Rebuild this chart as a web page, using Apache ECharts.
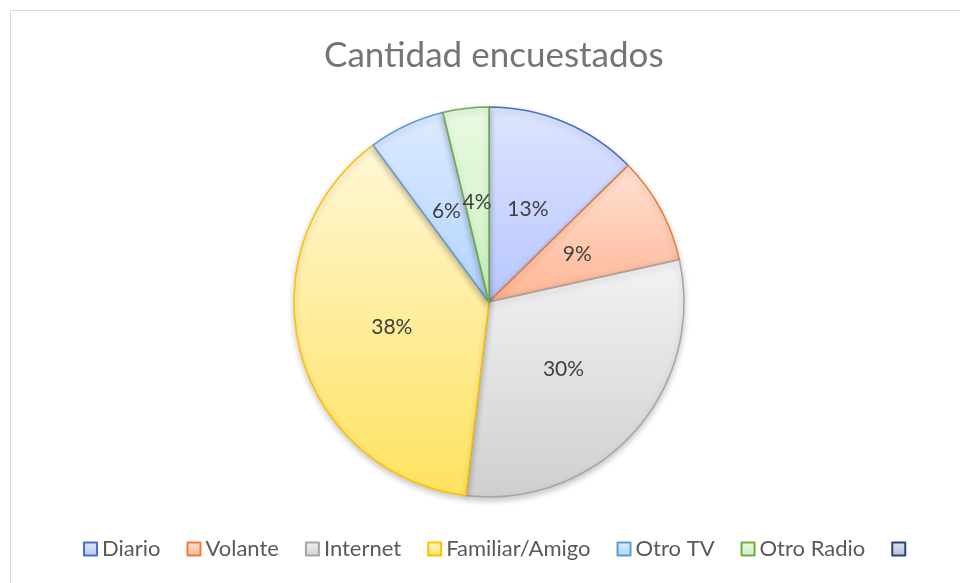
<!DOCTYPE html>
<html>
<head>
<meta charset="utf-8">
<script src="https://cdn.jsdelivr.net/npm/echarts@6/dist/echarts.min.js"></script>
<style>
html,body{margin:0;padding:0;background:#fff;overflow:hidden;}
#frame{position:absolute;left:10px;top:10px;width:980px;height:620px;border:1px solid #D9D9D9;box-sizing:border-box;}
#chart{position:absolute;left:0;top:0;width:960px;height:583px;}
</style>
</head>
<body>
<div id="frame"></div>
<div id="chart"></div>
<script>
const titleText = 'Cantidad encuestados';
const categories = ['Diario', 'Volante', 'Internet', 'Familiar/Amigo', 'Otro TV', 'Otro Radio', '\u00A0'];
const values = [10, 7, 24, 30, 5, 3, 0];
const lineColors = ['#4472C4', '#ED7D31', '#A5A5A5', '#FFC000', '#5B9BD5', '#70AD47', '#264478'];
const topColors = ['#DEE5FF', '#FFE2D4', '#F3F3F3', '#FFF7D8', '#DDEBFF', '#E9FAE2', '#DDE2EE'];
const bottomColors = ['#B8C6FF', '#FFB594', '#CFCFCF', '#FFE25E', '#B2D3FF', '#CCF1BF', '#B8C2D8'];

function grad(i) {
  return new echarts.graphic.LinearGradient(0, 0, 0, 1, [
    {offset: 0, color: topColors[i]},
    {offset: 1, color: bottomColors[i]}
  ]);
}

const pieData = categories.map((name, i) => {
  const item = {
    name: name,
    value: values[i],
    itemStyle: {color: grad(i), borderColor: lineColors[i], borderWidth: 1.5}
  };
  if (values[i] === 0) {
    item.itemStyle.borderWidth = 0;
    item.label = {show: false};
  }
  return item;
});

const legendData = categories.map((name, i) => ({
  name: name,
  itemStyle: {color: grad(i), borderColor: lineColors[i], borderWidth: 2}
}));

const chart = echarts.init(document.getElementById('chart'), null, {renderer: 'canvas'});
chart.setOption({
  animation: false,
  backgroundColor: 'transparent',
  title: {
    text: titleText,
    left: 319,
    top: 33,
    textStyle: {fontFamily: 'Lato', fontSize: 35, fontWeight: 'normal', color: '#757575'}
  },
  legend: {
    data: legendData,
    bottom: 18,
    left: 78,
    icon: 'rect',
    itemWidth: 13,
    itemHeight: 13,
    itemGap: 26,
    textStyle: {fontFamily: 'Lato', fontSize: 22, color: '#595959'}
  },
  series: [{
    type: 'pie',
    center: [489, 302],
    radius: 195,
    startAngle: 90,
    clockwise: true,
    avoidLabelOverlap: false,
    label: {
      show: true,
      position: 'inside',
      fontFamily: 'Lato',
      fontSize: 21,
      color: '#404040',
      formatter: p => Math.round(p.percent) + '%'
    },
    labelLine: {show: false},
    itemStyle: {shadowBlur: 6, shadowOffsetY: 3, shadowColor: 'rgba(0,0,0,0.22)'},
    emphasis: {disabled: true},
    data: pieData
  }]
});
</script>
</body>
</html>
